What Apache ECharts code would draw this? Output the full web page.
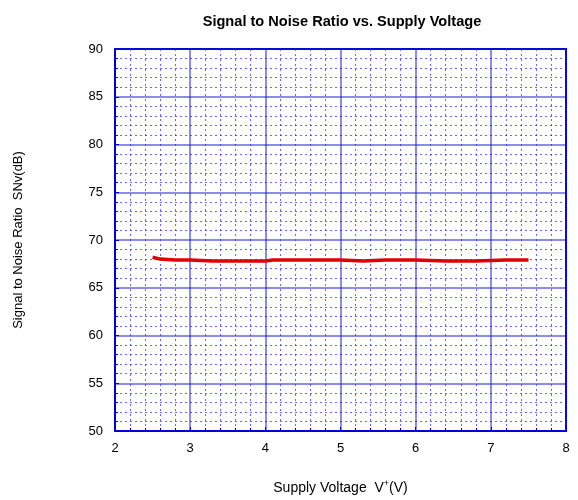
<!DOCTYPE html>
<html>
<head>
<meta charset="utf-8">
<script src="https://cdn.jsdelivr.net/npm/echarts@6/dist/echarts.min.js"></script>
<style>html,body{margin:0;padding:0;background:#fff}#c{width:578px;height:500px}</style>
</head>
<body>
<div id="c"></div>
<script>
const voltage = [2.5, 2.6, 2.8, 3.0, 3.3, 3.6, 4.0, 4.1, 4.5, 5.0, 5.3, 5.6, 6.0, 6.4, 6.8, 7.2, 7.5];
const snr     = [68.2, 68.0, 67.9, 67.9, 67.8, 67.8, 67.8, 67.9, 67.9, 67.9, 67.8, 67.9, 67.9, 67.8, 67.8, 67.9, 67.9];
const titleText = 'Signal to Noise Ratio vs. Supply Voltage';
const yName = 'Signal to Noise Ratio  SNv(dB)';

const chart = echarts.init(document.getElementById('c'), null, {renderer: 'canvas'});
const blue = '#0000dd';
const major = 'rgba(20,20,210,0.65)';
const minor = 'rgba(40,40,255,0.7)';
chart.setOption({
  animation: false,
  backgroundColor: '#fff',
  title: {
    text: titleText,
    left: 337, top: 9, textAlign: 'center',
    textStyle: {fontFamily: 'Liberation Sans, Arial', fontSize: 14.6, fontWeight: 'bold', color: '#000'}
  },
  grid: {left: 115, right: 12, top: 49, bottom: 68, show: true, borderColor: blue, borderWidth: 2, backgroundColor: 'transparent'},
  xAxis: {
    type: 'value', min: 2, max: 8, interval: 1,
    name: '{a|Supply Voltage  V}{s|+}{a|(V)}',
    nameLocation: 'middle', nameGap: 48,
    nameTextStyle: {rich: {
      a: {fontFamily: 'Liberation Sans, Arial', fontSize: 14, color: '#000'},
      s: {fontFamily: 'Liberation Sans, Arial', fontSize: 9, color: '#000', verticalAlign: 'top', padding: [0,0,9,0]}
    }},
    axisLine: {show: true, lineStyle: {color: blue, width: 2}},
    axisTick: {show: true, inside: true, length: 4, lineStyle: {color: blue}},
    minorTick: {show: true, splitNumber: 5, length: 3, lineStyle: {color: blue}},
    axisLabel: {color: '#000', fontFamily: 'Liberation Sans, Arial', fontSize: 13, margin: 11},
    splitLine: {show: true, lineStyle: {color: major, width: 1.5}},
    minorSplitLine: {show: true, lineStyle: {color: minor, width: 1, type: [2, 3]}}
  },
  yAxis: {
    type: 'value', min: 50, max: 90, interval: 5,
    name: yName, nameLocation: 'middle', nameGap: 90,
    nameTextStyle: {fontFamily: 'Liberation Sans, Arial', fontSize: 13, color: '#000'},
    axisLine: {show: true, lineStyle: {color: blue, width: 2}},
    axisTick: {show: true, inside: true, length: 4, lineStyle: {color: blue}},
    minorTick: {show: true, splitNumber: 5, length: 3, lineStyle: {color: blue}},
    axisLabel: {color: '#000', fontFamily: 'Liberation Sans, Arial', fontSize: 13, margin: 12},
    splitLine: {show: true, lineStyle: {color: major, width: 1.5}},
    minorSplitLine: {show: true, lineStyle: {color: minor, width: 1, type: [2, 3]}}
  },
  series: [{
    type: 'line',
    data: voltage.map((v, i) => [v, snr[i]]),
    showSymbol: false,
    lineStyle: {color: '#e00000', width: 3.5},
    z: 5
  }]
});
</script>
</body>
</html>
